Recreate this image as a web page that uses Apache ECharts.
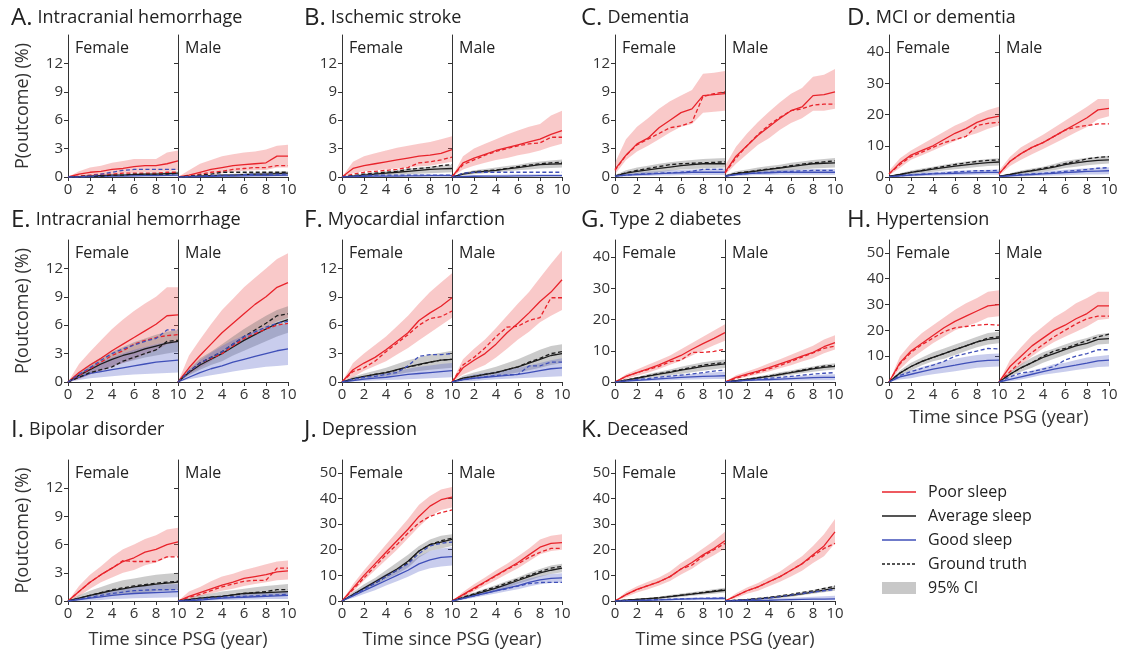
<!DOCTYPE html>
<html>
<head>
<meta charset="utf-8">
<script src="https://cdn.jsdelivr.net/npm/echarts@6.0.0/dist/echarts.min.js"></script>
<style>
  html, body { margin: 0; background: #fff; }
  #main { width: 1122px; height: 654px; }
</style>
</head>
<body>
<div id="main"></div>
<script>
// time since PSG, years
const years = [0, 1, 2, 3, 4, 5, 6, 7, 8, 9, 10];

// y tick sets
const ticks12 = [0, 3, 6, 9, 12];
const ticks40 = [0, 10, 20, 30, 40];
const ticks50 = [0, 10, 20, 30, 40, 50];

// each group: [model, groundTruth, ciLow, ciHigh], one value per year
const A_female = {
  poor: [[0,0.3,0.5,0.6,0.8,0.9,1.1,1.2,1.2,1.4,1.7],[0,0.1,0.2,0.3,0.3,0.4,0.4,0.4,0.4,0.5,0.5],[0,0.05,0.15,0.2,0.3,0.35,0.45,0.5,0.5,0.6,0.7],[0,0.6,1.0,1.2,1.5,1.7,1.9,1.9,1.9,2.6,2.8]],
  avg:  [[0,0.05,0.1,0.15,0.2,0.2,0.25,0.3,0.3,0.35,0.4],[0,0.05,0.1,0.1,0.2,0.2,0.3,0.3,0.3,0.3,0.4],[0,0,0.05,0.05,0.1,0.1,0.1,0.15,0.15,0.15,0.2],[0,0.1,0.2,0.25,0.3,0.35,0.4,0.45,0.5,0.55,0.6]],
  good: [[0,0.02,0.05,0.07,0.1,0.1,0.12,0.14,0.15,0.17,0.2],[0,0,0.1,0.3,0.5,0.7,0.8,0.8,0.8,0.8,0.8],[0,0,0,0,0.05,0.05,0.05,0.05,0.05,0.05,0.05],[0,0.05,0.1,0.15,0.2,0.22,0.25,0.28,0.3,0.32,0.35]]
};
const A_male = {
  poor: [[0,0.2,0.5,0.8,1.0,1.2,1.3,1.4,1.5,2.2,2.2],[0,0.1,0.3,0.5,0.6,0.8,0.9,1.0,1.0,1.2,1.2],[0,0.05,0.2,0.3,0.4,0.55,0.65,0.7,0.75,1.0,1.0],[0,0.7,1.4,1.8,2.2,2.4,2.6,2.7,2.9,3.3,3.4]],
  avg:  [[0,0.05,0.1,0.15,0.2,0.2,0.25,0.3,0.3,0.35,0.4],[0,0.1,0.2,0.3,0.5,0.5,0.5,0.5,0.5,0.5,0.5],[0,0,0.05,0.05,0.1,0.1,0.1,0.15,0.15,0.15,0.2],[0,0.1,0.2,0.25,0.3,0.35,0.4,0.45,0.5,0.55,0.6]],
  good: [[0,0.02,0.05,0.07,0.1,0.1,0.12,0.14,0.15,0.17,0.2],[0,0.05,0.1,0.15,0.2,0.2,0.25,0.3,0.3,0.3,0.3],[0,0,0,0,0.05,0.05,0.05,0.05,0.05,0.05,0.05],[0,0.05,0.1,0.15,0.2,0.22,0.25,0.28,0.3,0.32,0.35]]
};
const B_female = {
  poor: [[0,0.9,1.2,1.4,1.6,1.8,2.0,2.2,2.3,2.5,2.9],[0,0.3,0.5,0.6,0.7,0.8,1.0,1.5,1.6,1.8,2.1],[0,0.4,0.6,0.7,0.8,0.9,1.0,1.1,1.2,1.4,1.6],[0,1.6,2.2,2.5,2.8,3.1,3.3,3.5,3.7,4.0,4.3]],
  avg:  [[0,0.1,0.2,0.3,0.4,0.5,0.6,0.7,0.8,0.85,0.9],[0,0.15,0.3,0.4,0.5,0.6,0.8,0.9,1.0,1.2,1.3],[0,0.05,0.1,0.15,0.2,0.25,0.3,0.35,0.4,0.45,0.5],[0,0.2,0.35,0.5,0.6,0.75,0.9,1.0,1.1,1.2,1.3]],
  good: [[0,0.05,0.08,0.1,0.1,0.1,0.12,0.12,0.14,0.15,0.15],[0,0.1,0.15,0.2,0.2,0.2,0.2,0.2,0.2,0.2,0.2],[0,0,0.02,0.03,0.04,0.05,0.05,0.05,0.06,0.06,0.06],[0,0.1,0.15,0.2,0.22,0.24,0.26,0.28,0.3,0.3,0.3]]
};
const B_male = {
  poor: [[0,1.5,2.0,2.4,2.8,3.1,3.4,3.7,4.0,4.5,4.9],[0,1.3,1.8,2.3,2.7,3.0,3.3,3.5,3.6,4.2,4.2],[0,0.8,1.2,1.5,1.8,2.0,2.3,2.5,2.8,3.2,3.5],[0,2.2,3.0,3.5,4.0,4.5,4.9,5.3,5.6,6.5,7.0]],
  avg:  [[0,0.3,0.5,0.6,0.7,0.85,1.0,1.15,1.3,1.35,1.4],[0,0.35,0.55,0.65,0.75,0.9,1.1,1.25,1.4,1.5,1.55],[0,0.15,0.3,0.4,0.5,0.6,0.7,0.8,0.9,0.95,1.0],[0,0.45,0.7,0.85,1.0,1.15,1.3,1.5,1.65,1.75,1.85]],
  good: [[0,0.05,0.08,0.1,0.1,0.1,0.12,0.12,0.14,0.15,0.15],[0,0.4,0.5,0.5,0.5,0.5,0.5,0.5,0.5,0.5,0.5],[0,0,0.02,0.03,0.04,0.05,0.05,0.05,0.06,0.06,0.06],[0,0.15,0.2,0.22,0.24,0.26,0.28,0.3,0.3,0.3,0.3]]
};
const C_female = {
  poor: [[0.8,2.3,3.5,4.1,5.2,6.0,6.8,7.2,8.6,8.7,8.8],[0.7,2.3,3.4,4.0,4.6,5.2,5.4,5.8,8.5,8.8,9.0],[0.3,1.8,2.7,3.3,4.0,4.7,5.3,5.6,6.8,6.9,7.0],[1.5,4.0,5.3,6.2,7.2,8.0,8.6,9.2,10.9,11.0,11.2]],
  avg:  [[0.1,0.4,0.6,0.75,0.9,1.05,1.2,1.3,1.4,1.4,1.4],[0.1,0.45,0.7,0.9,1.1,1.3,1.4,1.45,1.5,1.55,1.6],[0,0.2,0.3,0.4,0.5,0.65,0.8,0.85,0.9,0.95,1.0],[0.2,0.7,1.0,1.2,1.4,1.55,1.7,1.8,1.9,1.95,2.0]],
  good: [[0.1,0.2,0.25,0.3,0.35,0.4,0.45,0.5,0.5,0.5,0.5],[0.1,0.2,0.3,0.35,0.4,0.45,0.5,0.6,0.8,0.8,0.8],[0,0.05,0.1,0.1,0.15,0.15,0.2,0.2,0.2,0.2,0.2],[0.2,0.35,0.45,0.55,0.6,0.7,0.75,0.8,0.85,0.9,0.9]]
};
const C_male = {
  poor: [[0.5,2.2,3.3,4.4,5.3,6.2,7.0,7.4,8.6,8.7,9.0],[0.4,2.0,3.3,4.5,5.5,6.3,7.0,7.2,7.6,7.7,7.7],[0.2,1.4,2.4,3.4,4.1,5.0,5.7,6.2,7.0,7.0,7.2],[1.2,3.2,4.6,5.8,6.9,7.9,8.8,9.4,10.6,10.8,11.4]],
  avg:  [[0.1,0.35,0.5,0.65,0.8,0.95,1.1,1.25,1.4,1.45,1.5],[0.1,0.4,0.55,0.7,0.85,1.0,1.2,1.35,1.5,1.6,1.7],[0,0.2,0.3,0.4,0.5,0.6,0.7,0.8,0.9,0.95,1.0],[0.2,0.6,0.8,1.0,1.15,1.3,1.5,1.65,1.8,1.9,2.0]],
  good: [[0.1,0.25,0.35,0.4,0.45,0.5,0.5,0.5,0.5,0.5,0.5],[0.1,0.25,0.35,0.45,0.5,0.55,0.6,0.65,0.7,0.7,0.7],[0,0.1,0.15,0.2,0.2,0.25,0.25,0.25,0.25,0.25,0.25],[0.2,0.4,0.55,0.65,0.7,0.75,0.8,0.8,0.85,0.85,0.85]]
};
const D_female = {
  poor: [[1,4.5,7,8.5,10,12,14,15.5,17.5,18.8,19.5],[1,4,6.5,8,9.5,11,12,13,16.5,17.2,17.5],[0.5,3,5.5,7,8.5,10,11.5,13,14,15.5,16.5],[2,6,8.5,10.5,12.5,14.5,16.5,18,20,21.5,22.5]],
  avg:  [[0.2,0.8,1.5,2,2.5,3,3.5,3.9,4.3,4.6,4.8],[0.2,0.8,1.5,2.1,2.8,3.4,4,4.5,5,5.3,5.5],[0,0.4,0.9,1.3,1.7,2.1,2.5,2.8,3.2,3.5,3.7],[0.4,1.2,2.1,2.7,3.3,3.9,4.5,5,5.4,5.8,6]],
  good: [[0.1,0.4,0.6,0.8,1,1.1,1.2,1.3,1.4,1.5,1.5],[0.1,0.4,0.7,0.9,1.1,1.3,1.6,1.8,2,2,2.1],[0,0.1,0.2,0.3,0.4,0.5,0.6,0.6,0.7,0.7,0.7],[0.3,0.8,1.1,1.4,1.6,1.8,2,2.1,2.2,2.3,2.4]]
};
const D_male = {
  poor: [[1,5,7.5,9.5,11,13,15,17,19,21.5,22],[1,5,7.5,9.5,11,13,15,16,16.5,17,17],[0.5,3.5,5.5,7.3,9,10.7,12.5,14.3,16,18.5,19.5],[2,6.5,9.5,11.5,13.5,15.8,18,20.3,22.5,25,25]],
  avg:  [[0.2,0.8,1.5,2,2.5,3.2,4,4.5,5,5.3,5.5],[0.2,0.8,1.5,2.1,2.8,3.5,4.3,5,5.8,6.3,6.5],[0,0.4,0.9,1.3,1.7,2.2,2.9,3.3,3.8,4.1,4.3],[0.4,1.2,2.1,2.7,3.3,4.2,5.1,5.7,6.2,6.5,6.8]],
  good: [[0.1,0.4,0.6,0.8,1,1.2,1.4,1.6,1.8,1.9,2],[0.1,0.5,0.8,1,1.2,1.5,1.8,2.1,2.4,2.8,3],[0,0.1,0.2,0.3,0.4,0.5,0.6,0.7,0.8,0.8,0.9],[0.3,0.8,1.1,1.4,1.7,2,2.3,2.6,2.8,3,3.1]]
};
const E_female = {
  poor: [[0,1.0,1.8,2.5,3.3,4.0,4.7,5.4,6.1,7.0,7.1],[0,0.7,1.4,2.1,2.8,3.3,4.0,4.4,4.7,4.9,5.0],[0,0.3,0.8,1.2,1.6,2.0,2.4,2.9,3.3,4.0,4.2],[0,1.9,3.2,4.4,5.6,6.6,7.5,8.3,9.0,10.0,10.0]],
  avg:  [[0,0.7,1.3,1.9,2.4,2.8,3.1,3.5,3.8,4.1,4.3],[0,0.5,1.0,1.3,1.6,2.2,2.6,3.0,3.4,4.3,4.4],[0,0.4,0.8,1.2,1.7,2.0,2.3,2.6,2.8,3.0,3.2],[0,1.0,1.9,2.6,3.2,3.7,4.2,4.6,5.0,5.3,5.5]],
  good: [[0,0.5,0.9,1.1,1.3,1.5,1.7,1.9,2.1,2.2,2.3],[0,0.8,1.5,2.3,3.0,3.5,3.9,4.3,4.6,5.5,5.5],[0,0.2,0.4,0.5,0.6,0.7,0.8,0.85,0.9,0.95,1.0],[0,0.9,1.6,2.1,2.6,3.0,3.4,3.7,4.0,4.2,4.3]]
};
const E_male = {
  poor: [[0,1.5,2.8,4.0,5.2,6.2,7.2,8.2,9.0,10.0,10.5],[0,1.1,2.0,2.5,3.0,3.8,4.6,5.1,5.6,6.0,6.2],[0,0.8,1.5,2.2,3.0,3.8,4.5,5.2,5.8,6.4,6.8],[0,2.8,4.5,6.1,7.6,8.8,10.0,11.0,12.0,13.0,13.6]],
  avg:  [[0,1.0,1.8,2.4,3.0,3.7,4.4,5.0,5.6,6.2,6.6],[0,1.1,2.0,2.6,3.2,4.0,4.8,5.5,6.2,7.0,7.2],[0,0.7,1.3,1.8,2.2,2.8,3.3,3.8,4.3,4.8,5.2],[0,1.4,2.5,3.2,4.0,4.8,5.6,6.3,7.0,7.6,8.0]],
  good: [[0,0.5,1.0,1.4,1.7,2.1,2.4,2.7,3.0,3.3,3.5],[0,1.1,2.0,2.6,3.2,4.0,4.8,5.3,5.8,6.2,6.4],[0,0.3,0.5,0.7,0.9,1.1,1.3,1.45,1.6,1.7,1.8],[0,1.3,2.3,3.1,3.8,4.4,4.9,5.4,5.8,6.0,6.2]]
};
const F_female = {
  poor: [[0,1.3,2.0,2.6,3.4,4.3,5.2,6.5,7.3,8.0,8.9],[0,1.1,1.5,2.2,3.2,4.1,5.0,6.0,6.7,6.9,7.5],[0,0.5,1.2,1.7,2.2,2.9,3.6,4.4,5.2,6.0,6.8],[0,2.0,3.0,3.9,4.8,5.9,7.0,8.3,9.5,10.5,11.5]],
  avg:  [[0,0.35,0.6,0.8,1.0,1.3,1.6,1.85,2.1,2.3,2.4],[0,0.3,0.55,0.8,1.0,1.25,1.6,1.8,2.1,2.3,2.4],[0,0.15,0.3,0.45,0.6,0.8,1.0,1.15,1.3,1.4,1.5],[0,0.55,0.9,1.2,1.5,1.9,2.3,2.6,2.9,3.1,3.3]],
  good: [[0,0.15,0.3,0.4,0.5,0.65,0.8,0.9,1.0,1.1,1.2],[0,0.3,0.5,0.6,0.8,1.0,1.7,2.7,2.9,2.9,3.0],[0,0.05,0.1,0.15,0.2,0.25,0.3,0.35,0.4,0.45,0.5],[0,0.35,0.6,0.8,1.0,1.2,1.4,1.6,1.75,1.9,2.0]]
};
const F_male = {
  poor: [[0,1.5,2.3,3.0,4.0,5.2,6.2,7.3,8.5,9.5,10.8],[0,1.8,2.6,3.6,4.8,5.8,5.9,6.5,6.8,8.9,8.9],[0,0.8,1.3,1.8,2.6,3.5,4.5,5.3,6.3,7.0,7.6],[0,2.4,3.5,4.5,5.7,7.0,8.3,9.5,11.0,12.5,13.9]],
  avg:  [[0,0.4,0.6,0.8,1.0,1.3,1.6,2.0,2.4,2.8,3.0],[0,0.4,0.6,0.8,1.0,1.3,1.6,2.1,2.5,3.0,3.2],[0,0.15,0.3,0.45,0.6,0.8,1.0,1.25,1.5,1.8,2.0],[0,0.65,1.0,1.3,1.6,2.0,2.4,2.9,3.4,3.8,4.0]],
  good: [[0,0.25,0.4,0.5,0.6,0.7,0.8,1.0,1.2,1.4,1.5],[0,0.25,0.4,0.55,0.7,0.75,0.8,1.7,1.7,2.1,2.1],[0,0.05,0.1,0.2,0.3,0.35,0.4,0.45,0.5,0.55,0.6],[0,0.5,0.8,0.95,1.1,1.3,1.5,1.75,2.0,2.3,2.5]]
};
const G_female = {
  poor: [[0,1.8,3,4.2,5.5,7,8.5,10.5,12.3,14,15.8],[0,1.8,3,4,5,6.5,7,9.5,9.5,9.8,10.5],[0,1,2,3,4.2,5.5,6.8,8.5,10.2,11.8,13.2],[0,2.5,4,5.5,7,8.5,10.5,12.5,14.5,16.5,18.5]],
  avg:  [[0,0.6,1.2,1.9,2.5,3.1,3.8,4.4,5,5.4,5.8],[0,0.6,1.3,2,2.7,3.3,4,4.7,5.4,5.9,6.2],[0,0.3,0.8,1.3,1.7,2.2,2.6,3.1,3.6,4.1,4.5],[0,0.9,1.6,2.6,3.3,4,4.9,5.6,6.3,6.8,7.2]],
  good: [[0,0.25,0.5,0.75,1,1.25,1.5,1.65,1.8,1.9,2],[0,0.4,0.8,1.1,1.5,1.9,2.2,2.6,3,3.5,3.8],[0,0.1,0.2,0.35,0.5,0.6,0.7,0.8,0.9,0.95,1],[0,0.5,0.9,1.3,1.6,2,2.3,2.6,2.9,3.1,3.3]]
};
const G_male = {
  poor: [[0,1.5,2.5,3.5,4.6,5.8,7.0,8.3,9.5,11.3,12.6],[0,1.2,2.2,3.1,4.2,5.3,6.6,8,9.3,10.8,11.5],[0,0.9,1.7,2.5,3.4,4.4,5.4,6.6,7.6,9.2,10.4],[0,2.2,3.4,4.6,6,7.3,8.7,10.2,11.6,13.6,15]],
  avg:  [[0,0.4,0.8,1.3,1.8,2.4,3,3.6,4.2,4.7,5],[0,0.4,0.9,1.4,1.9,2.5,3.1,3.8,4.5,5.1,5.3],[0,0.2,0.5,0.9,1.3,1.8,2.3,2.8,3.3,3.7,4],[0,0.6,1.2,1.8,2.4,3.1,3.7,4.4,5,5.6,6]],
  good: [[0,0.25,0.5,0.65,0.8,0.95,1.1,1.25,1.4,1.45,1.5],[0,0.3,0.6,0.9,1.2,1.5,1.8,2.2,2.5,2.8,3],[0,0.1,0.2,0.3,0.35,0.4,0.45,0.5,0.55,0.6,0.6],[0,0.45,0.8,1.05,1.3,1.55,1.8,2,2.2,2.4,2.5]]
};
const H_female = {
  poor: [[0,7.5,12,15,18,21,23.5,25.5,27.5,29.5,30],[0,7,11.5,14.5,17,19.5,21,21.5,22,22.3,22],[0,5,9,12,15,17.5,20,21.5,23,25,25.5],[0,10,15,19,22,25,28,30.5,32.5,35,35.5]],
  avg:  [[0,3.5,6,8,9.5,11,12.5,14,15.5,16.5,17],[0,3.5,6,8,9.5,11,12.5,14,15.5,17,17.5],[0,2.5,4.5,6.5,8,9,10.5,12,13.5,14.5,15],[0,4.5,7.5,9.5,11.5,13,14.5,16,17.5,19,19.5]],
  good: [[0,2,3,4,5,5.8,6.5,7.3,8,8.4,8.5],[0,2.5,4,5.3,6.5,8,10,11,12,13,12.8],[0,1,1.5,2.3,3,3.6,4.2,4.8,5.5,5.8,6],[0,3,4.5,5.8,7,8,9,9.8,10.5,10.8,11]]
};
const H_male = {
  poor: [[0,6,10,14,17,20,22,24.5,26.5,29.5,29.5],[0,4,8,11.5,14.5,17.5,20,22.5,24.5,25.5,25.5],[0,3.5,6.5,10,13,15.5,17.5,19.5,21.5,24,24.5],[0,8.5,13.5,18,21.5,25,27.5,30.5,32.5,35,35]],
  avg:  [[0,3,5.5,7.5,9.5,11,12.5,14,15,16.5,16.8],[0,3,5.5,7.5,10,12,13,14.5,16,17.5,18.5],[0,2,4,5.5,7.5,9,10.5,12,13,14.5,14.8],[0,4,7,9.5,11.5,13,14.5,16,17,18.5,19]],
  good: [[0,1,2,3,4,5,5.8,6.5,7.3,8.2,8.5],[0,2,3.5,4,5,6,8.5,10,11,12.5,12.5],[0,0.3,1,1.8,2.8,3.4,4,4.6,5.2,5.8,6],[0,2,3,4.5,5.5,7,7.5,8.5,9.5,10,10.5]]
};
const I_female = {
  poor: [[0,1.0,2.0,2.8,3.5,4.2,4.6,5.2,5.5,6.0,6.3],[0,1.0,2.0,2.8,3.5,4.3,4.2,4.2,4.2,4.7,4.7],[0,0.5,1.3,2.0,2.5,3.0,3.3,3.8,4.1,4.6,4.8],[0,1.6,2.8,3.7,4.7,5.5,6.0,6.6,7.0,7.6,7.8]],
  avg:  [[0,0.3,0.6,0.85,1.1,1.3,1.5,1.65,1.8,1.9,2.0],[0,0.3,0.6,0.9,1.2,1.4,1.6,1.75,1.9,2.0,2.1],[0,0.1,0.3,0.45,0.6,0.7,0.8,0.9,1.0,1.1,1.2],[0,0.6,1.1,1.5,1.9,2.2,2.4,2.6,2.8,2.9,3.0]],
  good: [[0,0.15,0.3,0.45,0.6,0.7,0.8,0.85,0.9,0.95,1.0],[0,0.2,0.4,0.6,0.8,0.95,1.1,1.15,1.2,1.2,1.2],[0,0.02,0.05,0.1,0.2,0.25,0.3,0.32,0.35,0.38,0.4],[0,0.3,0.6,0.9,1.2,1.35,1.5,1.6,1.7,1.75,1.8]]
};
const I_male = {
  poor: [[0,0.5,0.9,1.3,1.7,2.0,2.4,2.6,2.8,3.1,3.2],[0,0.4,0.7,1.1,1.5,1.8,2.1,2.2,2.2,3.5,3.5],[0,0.2,0.5,0.8,1.1,1.3,1.6,1.8,2.0,2.2,2.3],[0,1.0,1.5,2.1,2.6,2.9,3.3,3.6,3.9,4.2,4.3]],
  avg:  [[0,0.15,0.3,0.4,0.5,0.65,0.8,0.85,0.9,0.95,1.0],[0,0.15,0.3,0.4,0.5,0.65,0.8,0.9,1.0,1.2,1.2],[0,0.05,0.1,0.15,0.2,0.3,0.4,0.45,0.5,0.55,0.6],[0,0.35,0.6,0.8,1.0,1.15,1.3,1.45,1.6,1.7,1.8]],
  good: [[0,0.05,0.1,0.2,0.3,0.35,0.4,0.45,0.5,0.55,0.6],[0,0.1,0.2,0.3,0.4,0.45,0.5,0.55,0.6,0.65,0.7],[0,0,0.02,0.05,0.1,0.1,0.15,0.15,0.2,0.2,0.2],[0,0.2,0.3,0.45,0.6,0.7,0.8,0.85,0.9,0.95,1.0]]
};
const J_female = {
  poor: [[0,5,10,14.5,19,23.5,28,33,37,39.5,40.5],[0,4.5,9,13.5,18,22,26.5,30.5,33,34.5,35.5],[0,3.5,8,12,16,20,24.5,29,33,35.5,36.5],[0,6.5,12,17,22,27,32,37.5,41,43.5,44.5]],
  avg:  [[0,2.5,5,7.5,10,12.5,15.5,19.5,22,23,24],[0,2.5,4.8,7,9.5,12,15,19.5,22,23.5,24.5],[0,1.8,3.8,6,8.5,10.5,13,17,19.5,20.5,21.5],[0,3.5,6.5,9,12,15,18,21.5,24,25.5,26]],
  good: [[0,2,4,6,8,10,12,14.5,16,17,17.3],[0,2.3,4.5,7,9.5,12,14.5,18.5,21.5,22.5,23],[0,1.2,2.7,4.2,6,7.7,9.5,11.5,12.8,13.5,13.8],[0,3,5.5,8,10.5,12.5,14.5,17.5,19.5,20.5,21]]
};
const J_male = {
  poor: [[0,2.5,5,7.5,10,12.5,15,18,21,22.5,22.8],[0,2.3,4.6,7.3,9.8,12.3,14.5,17,19,20.5,20.5],[0,1.5,3.8,6,8.2,10.5,12.8,15.5,18.2,19.5,20],[0,3.5,6.5,9.2,12,14.5,17.5,20.5,24,25.5,26]],
  avg:  [[0,1.2,2.5,3.8,5,6.5,8,9.5,11,12,12.8],[0,1.4,2.8,4.2,5.5,7,8.5,10,11.5,12.8,13.5],[0,0.7,1.8,2.9,4,5.2,6.7,8,9.5,10.5,11.2],[0,2,3.3,4.8,6.2,7.8,9.3,11,12.5,13.8,14.5]],
  good: [[0,1,2,3,4,5,6,7.3,8.2,8.8,9],[0,1,2,3,4,4.8,5.8,6.8,7.2,7.3,7.3],[0,0.5,1.3,2.1,2.9,3.8,4.6,5.7,6.5,7,7.2],[0,1.6,2.8,4,5.2,6.3,7.5,8.8,9.8,10.5,10.8]]
};
const K_female = {
  poor: [[0,2.5,4.5,6,7.5,9.5,12.5,15,18,20.5,23.5],[0,2.5,4.5,6,7.5,9.5,12.5,14,17.5,20,22.5],[0,1.6,3.3,4.6,6,7.8,10.3,12.6,15.5,17.8,20.5],[0,3.5,5.8,7.5,9.2,11.5,14.8,17.5,20.5,23.5,27]],
  avg:  [[0,0.3,0.6,0.9,1.2,1.7,2.2,2.7,3.2,3.7,4.2],[0,0.3,0.6,0.9,1.3,1.8,2.3,2.8,3.4,3.9,4.5],[0,0.1,0.3,0.55,0.8,1.2,1.6,2,2.4,2.8,3.3],[0,0.5,0.9,1.3,1.7,2.3,2.9,3.4,4,4.6,5.2]],
  good: [[0,0.1,0.2,0.3,0.4,0.55,0.7,0.8,0.9,0.95,1],[0,0.1,0.25,0.4,0.55,0.7,0.85,0.95,1.05,1.1,1.2],[0,0,0.05,0.1,0.15,0.2,0.25,0.3,0.35,0.4,0.4],[0,0.25,0.45,0.6,0.8,1.0,1.2,1.35,1.5,1.6,1.7]]
};
const K_male = {
  poor: [[0,2,4,5.5,7.5,9.5,12,14.5,18,21.5,27],[0,2,4,5.5,7.5,9.5,12,14.5,17.5,20.5,22.5],[0,1.2,2.8,4,5.8,7.5,9.6,11.8,14.8,17.5,22.5],[0,3,5.3,7,9.3,11.5,14.5,17.5,21.5,26,32]],
  avg:  [[0,0.25,0.5,0.8,1.2,1.7,2.2,2.8,3.5,4.2,5],[0,0.3,0.6,1,1.4,2,2.6,3.3,4,4.9,5.8],[0,0.1,0.3,0.55,0.8,1.2,1.6,2.2,2.8,3.4,4],[0,0.4,0.8,1.2,1.7,2.2,2.8,3.5,4.3,5.1,6]],
  good: [[0,0.1,0.2,0.25,0.3,0.4,0.5,0.6,0.7,0.75,0.8],[0,0.25,0.5,0.8,1.2,1.7,2.3,2.9,3.5,4,4.5],[0,0,0,0.05,0.1,0.15,0.2,0.25,0.3,0.3,0.3],[0,0.25,0.5,0.7,0.9,1.1,1.3,1.5,1.7,1.85,2]]
};

const panelLetters = ['A', 'B', 'C', 'D', 'E', 'F', 'G', 'H', 'I', 'J', 'K'];
const panelNames = ['Intracranial hemorrhage', 'Ischemic stroke', 'Dementia', 'MCI or dementia',
  'Intracranial hemorrhage', 'Myocardial infarction', 'Type 2 diabetes', 'Hypertension',
  'Bipolar disorder', 'Depression', 'Deceased'];
const legendNames = ['Poor sleep', 'Average sleep', 'Good sleep', 'Ground truth', '95% CI'];

const panels = [
  { f: A_female, m: A_male, ticks: ticks12, max: 15 },
  { f: B_female, m: B_male, ticks: ticks12, max: 15 },
  { f: C_female, m: C_male, ticks: ticks12, max: 15 },
  { f: D_female, m: D_male, ticks: ticks40, max: 45.5 },
  { f: E_female, m: E_male, ticks: ticks12, max: 15 },
  { f: F_female, m: F_male, ticks: ticks12, max: 15 },
  { f: G_female, m: G_male, ticks: ticks40, max: 45.5 },
  { f: H_female, m: H_male, ticks: ticks50, max: 55 },
  { f: I_female, m: I_male, ticks: ticks12, max: 15 },
  { f: J_female, m: J_male, ticks: ticks50, max: 55 },
  { f: K_female, m: K_male, ticks: ticks50, max: 55 }
];

// layout (px)
const colLeft = [68, 342, 615, 889];
const subW = 110;
const rowTop = [35, 240, 460];
const rowH = [142, 142, 141];
const titleX = [11, 304, 581, 847];
const titleY = [18, 220, 430];
const FONT = 'Open Sans';
const TXT = '#333';

const groups = ['poor', 'avg', 'good'];
const lineColor = { poor: '#e8232b', avg: '#1c1c1c', good: '#3f4fb8' };
const bandColor = { poor: 'rgba(238,92,92,0.33)', avg: 'rgba(110,110,110,0.36)', good: 'rgba(88,98,200,0.32)' };

// CI band: one polygon through the upper bound and back along the lower bound
function bandRenderer(rows, color) {
  return function (params, api) {
    if (params.dataIndex !== 0) return;
    const upper = rows.map(r => api.coord([r[0], r[2]]));
    const lower = rows.map(r => api.coord([r[0], r[1]])).reverse();
    return { type: 'polygon', shape: { points: upper.concat(lower) }, style: { fill: color }, silent: true };
  };
}

const grids = [], xAxes = [], yAxes = [], series = [], titles = [];

panels.forEach((p, pi) => {
  const row = Math.floor(pi / 4), col = pi % 4;
  titles.push({
    left: titleX[col], top: titleY[row], textVerticalAlign: 'middle', padding: 0,
    text: '{l|' + panelLetters[pi] + '.} {t|' + panelNames[pi] + '}',
    textStyle: { fontWeight: 'normal', rich: {
      l: { fontSize: 24, fontFamily: FONT, fontWeight: 'normal', color: '#222' },
      t: { fontSize: 18, fontFamily: FONT, fontWeight: 'normal', color: '#222' }
    } }
  });
  [p.f, p.m].forEach((d, si) => {
    const gi = pi * 2 + si;
    const left = colLeft[col] + si * subW;
    grids.push({ left: left, top: rowTop[row], width: subW, height: rowH[row] });
    titles.push({
      left: left + 7, top: rowTop[row] + 13, textVerticalAlign: 'middle', padding: 0,
      text: si === 0 ? 'Female' : 'Male',
      textStyle: { fontSize: 16, fontFamily: FONT, fontWeight: 'normal', color: '#222' }
    });
    xAxes.push({
      gridIndex: gi, type: 'value', min: 0, max: 10, interval: 2,
      axisLine: { show: true, lineStyle: { color: TXT, width: 1 } },
      axisTick: { show: true, length: 4, lineStyle: { color: TXT } },
      axisLabel: { color: TXT, fontSize: 15, fontFamily: FONT, margin: 5, showMinLabel: si === 0 },
      splitLine: { show: false }
    });
    const yAx = {
      gridIndex: gi, type: 'value', min: 0, max: p.max, interval: p.ticks[1],
      axisLine: { show: true, lineStyle: { color: TXT, width: 1 } },
      axisTick: { show: true, length: 4, lineStyle: { color: TXT }, customValues: p.ticks },
      axisLabel: { show: si === 0, color: TXT, fontSize: 15, fontFamily: FONT, margin: 5, customValues: p.ticks },
      splitLine: { show: false }
    };
    if (col === 0 && si === 0) {
      yAx.name = 'P(outcome) (%)';
      yAx.nameLocation = 'middle';
      yAx.nameGap = 36;
      yAx.nameTextStyle = { fontSize: 18, fontFamily: FONT, color: TXT };
    }
    yAxes.push(yAx);

    const base = { xAxisIndex: gi, yAxisIndex: gi, silent: true, animation: false };
    groups.forEach(g => {
      const rows = years.map((t, i) => [t, d[g][2][i], d[g][3][i]]);
      series.push(Object.assign({}, base, {
        type: 'custom', z: 1,
        data: rows,
        renderItem: bandRenderer(rows, bandColor[g])
      }));
    });
    groups.forEach((g, k) => {
      series.push(Object.assign({}, base, {
        type: 'line', symbol: 'none', name: legendNames[k], z: 3,
        lineStyle: { color: lineColor[g], width: 1.3 },
        data: years.map((t, i) => [t, d[g][0][i]])
      }));
    });
    groups.forEach(g => {
      series.push(Object.assign({}, base, {
        type: 'line', symbol: 'none', z: 4,
        lineStyle: { color: lineColor[g], width: 1.3, type: [4, 2.5] },
        data: years.map((t, i) => [t, d[g][1][i]])
      }));
    });
  });
});

// x axis names under H, I, J, K
[[7, 418], [8, 640], [9, 640], [10, 640]].forEach(([pi, y]) => {
  titles.push({
    left: colLeft[pi % 4] + subW, top: y, textAlign: 'center', textVerticalAlign: 'middle', padding: 0,
    text: 'Time since PSG (year)',
    textStyle: { fontSize: 18, fontFamily: FONT, fontWeight: 'normal', color: TXT }
  });
});

// legend
const legendY = [492, 516, 540, 564, 588];
const legendColors = ['#e8232b', '#1c1c1c', '#3f4fb8', '#1c1c1c'];
const graphics = [];
legendNames.forEach((name, i) => {
  if (i < 4) {
    graphics.push({ type: 'line', shape: { x1: 882, y1: legendY[i], x2: 916, y2: legendY[i] },
      style: { stroke: legendColors[i], lineWidth: 1.3, lineDash: i === 3 ? [3, 2] : null } });
  } else {
    graphics.push({ type: 'rect', shape: { x: 882, y: legendY[i] - 6, width: 34, height: 12 },
      style: { fill: '#c8c8c8' } });
  }
  graphics.push({ type: 'text', x: 928, y: legendY[i],
    style: { text: name, font: '16px "Open Sans"', fill: '#222', textVerticalAlign: 'middle' } });
});

const chart = echarts.init(document.getElementById('main'), null, { renderer: 'canvas' });
chart.setOption({
  animation: false,
  backgroundColor: '#fff',
  title: titles,
  grid: grids,
  xAxis: xAxes,
  yAxis: yAxes,
  series: series,
  graphic: graphics
});
</script>
</body>
</html>
